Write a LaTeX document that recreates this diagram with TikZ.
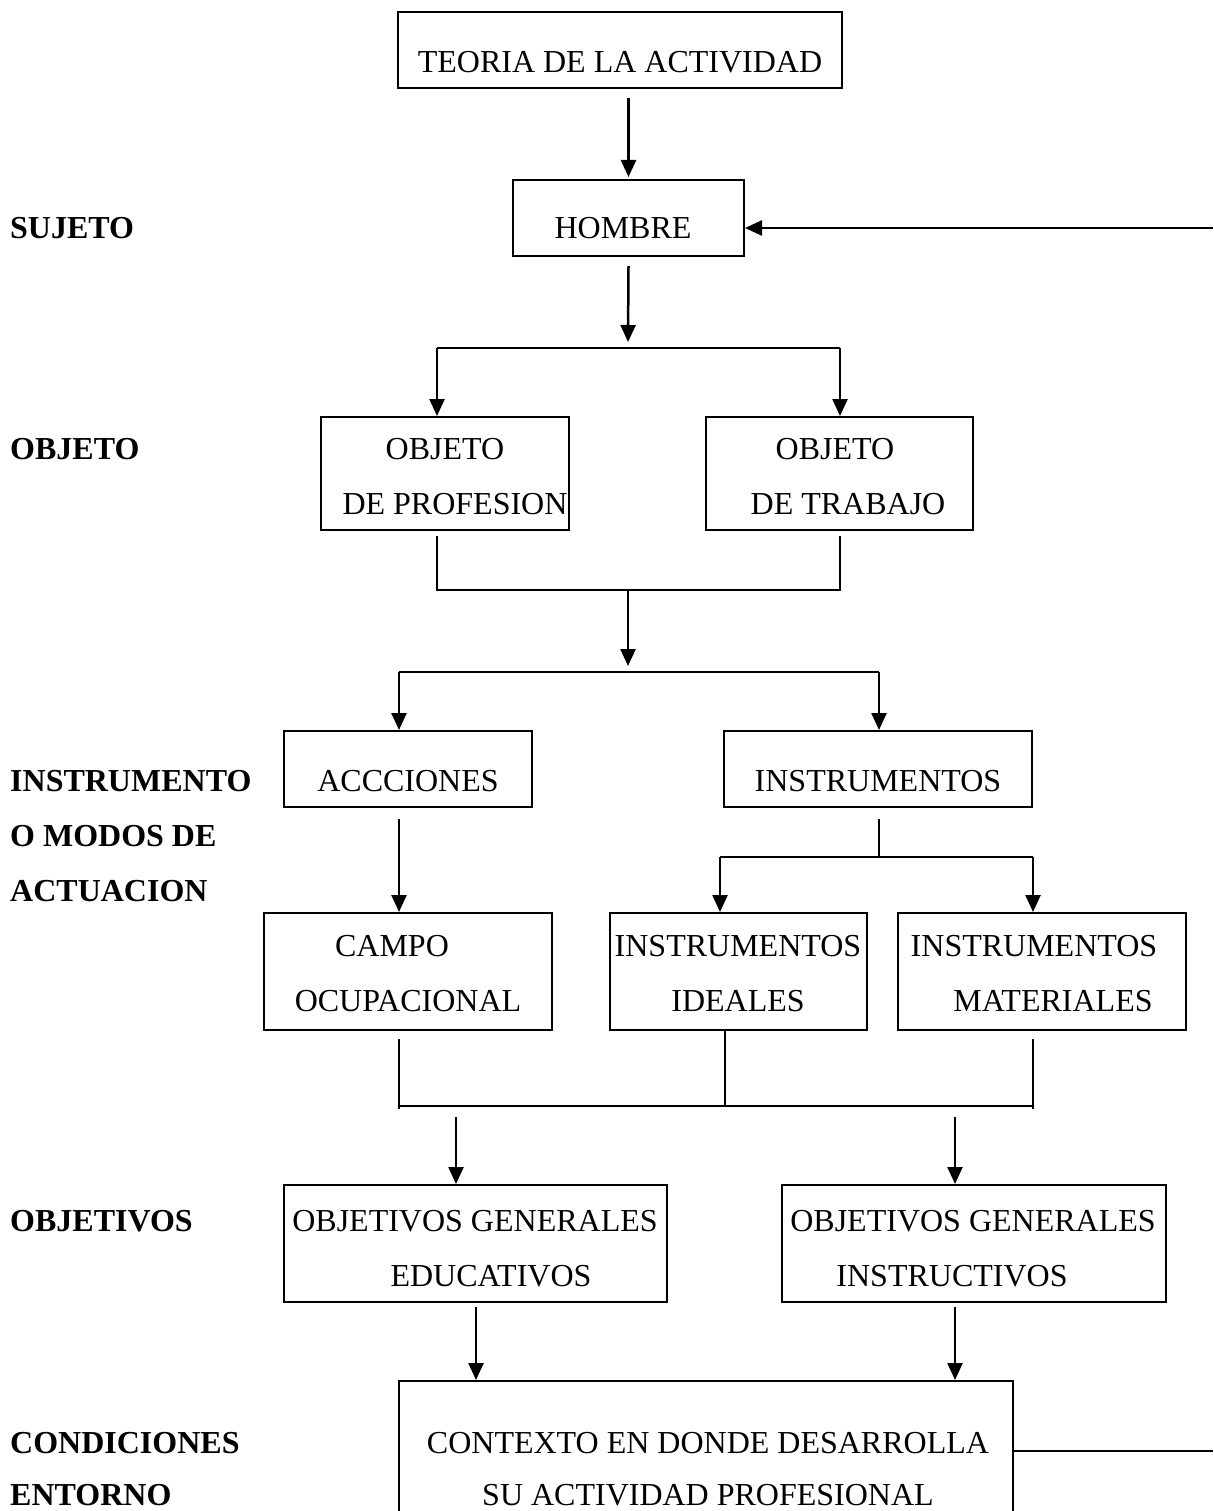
\documentclass[tikz,border=0pt]{standalone}
\usepackage{fontspec}
\setmainfont{Liberation Serif}
\usetikzlibrary{arrows.meta,calc}
\tikzset{
  box/.style={draw, line width=2pt, rectangle, inner sep=0pt},
  txt/.style={inner sep=0pt, anchor=base, font=\fontsize{32}{38}\selectfont},
  lbl/.style={inner sep=0pt, anchor=base west, font=\fontsize{32}{38}\selectfont\bfseries},
  arr/.style={line width=2.5pt, -{Triangle[width=15pt,length=17pt]}},
  ln/.style={line width=2.5pt},
  thin/.style={line width=1.6pt}
}
\begin{document}
\begin{tikzpicture}[x=1pt,y=-1pt]
\useasboundingbox[fill=white] (0,0) rectangle (1213,1511);
\clip (0,0) rectangle (1213,1511);
% boxes
\node[box, minimum width=444pt, minimum height=76pt] (teoria) at (620,50) {};
\node[box, minimum width=231pt, minimum height=76pt] (hombre) at (628.5,218) {};
\node[box, minimum width=248pt, minimum height=113pt] (prof) at (445,473.5) {};
\node[box, minimum width=267pt, minimum height=113pt] (trab) at (839.5,473.5) {};
\node[box, minimum width=248pt, minimum height=76pt] (acc) at (408,769) {};
\node[box, minimum width=308pt, minimum height=76pt] (instr) at (878,769) {};
\node[box, minimum width=288pt, minimum height=117pt] (campo) at (408,971.5) {};
\node[box, minimum width=257pt, minimum height=117pt] (ideal) at (738.5,971.5) {};
\node[box, minimum width=288pt, minimum height=117pt] (mater) at (1042,971.5) {};
\node[box, minimum width=383pt, minimum height=117pt] (educ) at (475.5,1243.5) {};
\node[box, minimum width=384pt, minimum height=117pt] (instrv) at (974,1243.5) {};
\node[box, minimum width=614pt, minimum height=160pt] (contexto) at (706,1461) {};
% texts
\node[txt] (t1) at (620,73) {TEORIA DE LA ACTIVIDAD};
\node[txt] (t2) at (623,239) {HOMBRE};
\node[txt] (t3a) at (445,459) {OBJETO};
\node[txt] (t3b) at (455,514) {DE PROFESION};
\node[txt] (t4a) at (835,459) {OBJETO};
\node[txt] (t4b) at (848,514) {DE TRABAJO};
\node[txt] (t5) at (408,791) {ACCCIONES};
\node[txt] (t6) at (878,791) {INSTRUMENTOS};
\node[txt] (t7a) at (392,956) {CAMPO};
\node[txt] (t7b) at (408,1011) {OCUPACIONAL};
\node[txt] (t8a) at (738,956) {INSTRUMENTOS};
\node[txt] (t8b) at (738,1011) {IDEALES};
\node[txt] (t9a) at (1034,956) {INSTRUMENTOS};
\node[txt] (t9b) at (1053,1011) {MATERIALES};
\node[txt] (t10a) at (475,1231) {OBJETIVOS GENERALES};
\node[txt] (t10b) at (491,1286) {EDUCATIVOS};
\node[txt] (t11a) at (973,1231) {OBJETIVOS GENERALES};
\node[txt] (t11b) at (952,1286) {INSTRUCTIVOS};
\node[txt] (t12a) at (708,1453) {CONTEXTO EN DONDE DESARROLLA};
\node[txt] (t12b) at (708,1505) {SU ACTIVIDAD PROFESIONAL};
% left labels
\node[lbl] (l1) at (10,239) {SUJETO};
\node[lbl] (l2) at (10,459) {OBJETO};
\node[lbl] (l3) at (10,791) {INSTRUMENTO};
\node[lbl] (l4) at (10,846) {O MODOS DE};
\node[lbl] (l5) at (10,901) {ACTUACION};
\node[lbl] (l6) at (10,1231) {OBJETIVOS};
\node[lbl] (l7) at (10,1453) {CONDICIONES};
\node[lbl] (l8) at (10,1505) {ENTORNO};
% coordinates
\coordinate (fbA) at (1213,228);
\coordinate (fbB) at (1213,1451);
\coordinate (b1) at (628,348);
\coordinate (b1L) at (437,348);
\coordinate (b1R) at (840,348);
\coordinate (j1) at (628,590);
\coordinate (j1L) at (437,590);
\coordinate (j1R) at (840,590);
\coordinate (b2) at (628,672);
\coordinate (b2L) at (399,672);
\coordinate (b2R) at (879,672);
\coordinate (b3) at (879,857);
\coordinate (b3L) at (720,857);
\coordinate (b3R) at (1033,857);
\coordinate (j2L) at (399,1106);
\coordinate (j2M) at (725,1106);
\coordinate (j2R) at (1033,1106);
\coordinate (a1) at (456,1117);
\coordinate (a2) at (955,1117);
% connectors
\draw[arr] ($(teoria.south -| hombre)+(0,9)$) -- ($(hombre.north)+(0,-2)$);
\draw[arr] (fbA) -- (fbA -| hombre.east);
\draw[arr] ($(hombre.south)+(0,9)$) -- ($(b1)+(0,-6)$);
\draw[ln] (b1L) -- (b1R);
\draw[arr] (b1L) -- (b1L |- prof.north);
\draw[arr] (b1R) -- (b1R |- trab.north);
\draw[ln] ($(prof.south -| j1L)+(0,5)$) -- (j1L) -- (j1R) -- ($(trab.south -| j1R)+(0,5)$);
\draw[arr] (j1) -- ($(b2)+(0,-6)$);
\draw[ln] (b2L) -- (b2R);
\draw[arr] (b2L) -- (b2L |- acc.north);
\draw[arr] (b2R) -- (b2R |- instr.north);
\draw[arr] ($(acc.south -| b2L)+(0,11)$) -- (b2L |- campo.north);
\draw[thin] ($(instr.south -| b3)+(0,11)$) -- (b3);
\draw[ln] (b3L) -- (b3R);
\draw[arr] (b3L) -- (b3L |- ideal.north);
\draw[arr] (b3R) -- (b3R |- mater.north);
\draw[thin] ($(campo.south -| j2L)+(0,8)$) -- ($(j2L)+(0,3)$);
\draw[thin] (ideal.south -| j2M) -- (j2M);
\draw[thin] ($(mater.south -| j2R)+(0,8)$) -- ($(j2R)+(0,3)$);
\draw[ln] (j2L) -- (j2R);
\draw[arr] (a1) -- (a1 |- educ.north);
\draw[arr] (a2) -- (a2 |- instrv.north);
\draw[arr] ($(educ.south -| t10a)+(1,4)$) -- ($(contexto.north -| t10a)+(1,0)$);
\draw[arr] ($(instrv.south -| a2)+(0,4)$) -- (a2 |- contexto.north);
\draw[ln] (fbB -| contexto.east) -- (fbB);
\end{tikzpicture}
\end{document}
